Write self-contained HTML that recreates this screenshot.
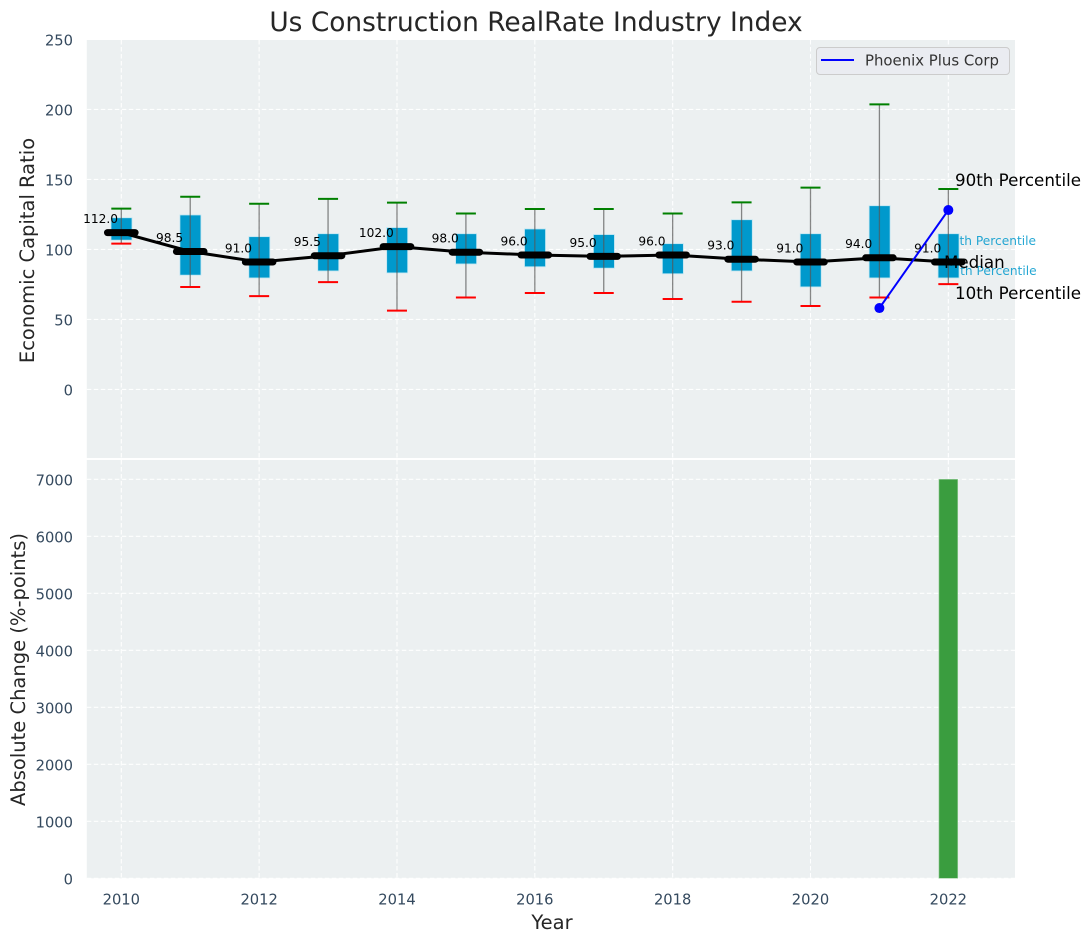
<!DOCTYPE html>
<html lang="en">
<head>
<meta charset="utf-8">
<title>Us Construction RealRate Industry Index</title>
<style>
html,body{margin:0;padding:0;background:#fff;}
svg{display:block;font-family:"DejaVu Sans","Liberation Sans",sans-serif;}
</style>
</head>
<body>
<svg id="chart" width="1090" height="942" viewBox="0 0 1090 942" xmlns="http://www.w3.org/2000/svg">
  <rect x="86.8" y="40" width="928.2" height="418" fill="#ecf0f1"/>
  <rect x="86.8" y="460" width="928.2" height="418.3" fill="#ecf0f1"/>
  <g id="grid"></g>
  <g id="ticks"></g>
  <text x="944" y="245" font-size="12.2" fill="#0099cc" fill-opacity="0.85">75th Percentile</text>
  <text x="944.6" y="275" font-size="12.2" fill="#0099cc" fill-opacity="0.85">25th Percentile</text>
  <g id="marks"></g>
  <text x="536" y="31" font-size="26.4" text-anchor="middle" fill="#262626">Us Construction RealRate Industry Index</text>
  <text transform="translate(34 250.5) rotate(-90)" font-size="19.5" text-anchor="middle" fill="#262626">Economic Capital Ratio</text>
  <text transform="translate(25 669.5) rotate(-90)" font-size="19.5" text-anchor="middle" fill="#262626">Absolute Change (%-points)</text>
  <text x="552" y="929" font-size="19.5" text-anchor="middle" fill="#262626">Year</text>
  <text x="955" y="186" font-size="16.7" fill="#000">90th Percentile</text>
  <text x="944" y="268" font-size="16.7" fill="#000">Median</text>
  <text x="955" y="299" font-size="16.7" fill="#000">10th Percentile</text>
  <g>
    <rect x="816.5" y="47.5" width="193" height="27" rx="3.5" fill="#eaecf1" stroke="#cccccc" stroke-width="1"/>
    <line x1="821" y1="60" x2="854" y2="60" stroke="#0000ff" stroke-width="2"/>
    <text x="865" y="65.5" font-size="14.9" fill="#333333">Phoenix Plus Corp</text>
  </g>
</svg>
<script>
const years = [2010,2011,2012,2013,2014,2015,2016,2017,2018,2019,2020,2021,2022];
const medians = [112,98.5,91,95.5,102,98,96,95,96,93,91,94,91];
const q1 = [106.6,81.6,79.6,84.6,83.2,89.6,87.6,86.6,82.6,84.6,73.2,79.6,79.6];
const q3 = [122.6,124.6,109.1,111.2,115.6,111.2,114.6,110.6,104.1,121.2,111.2,131.2,111.2];
const p10 = [104.1,73.1,66.6,76.6,56.3,65.6,68.9,68.9,64.6,62.6,59.6,65.6,75.2];
const p90 = [129.1,137.6,132.6,136.1,133.4,125.6,128.9,128.9,125.6,133.6,144.1,203.6,143.1];
const phoenixYears = [2021,2022];
const phoenixValues = [58.1,128.1];
const changeYears = [2022];
const changeValues = [7000];
const xTicks = [2010,2012,2014,2016,2018,2020,2022];
const topTicks = [0,50,100,150,200,250];
const bottomTicks = [0,1000,2000,3000,4000,5000,6000,7000];

const NS = 'http://www.w3.org/2000/svg';
const xScale = v => 121.3 + (v - 2010) * 68.92;
const yTop = v => 389.4 - v * 1.4;
const yBottom = v => 878.3 - v * 0.057;
const marks = document.getElementById('marks');
const grid = document.getElementById('grid');
const ticks = document.getElementById('ticks');

function make(parent, tag, props, content) {
  const el = document.createElementNS(NS, tag);
  for (const k in props) el.setAttribute(k, props[k]);
  if (content !== undefined) el.textContent = content;
  parent.appendChild(el);
  return el;
}
const gridStyle = {stroke:'#ffffff', 'stroke-width':1.1, 'stroke-dasharray':'4.5 2.5', 'stroke-opacity':0.95};

xTicks.forEach(t => {
  const x = xScale(t);
  let el = make(grid, 'line', Object.assign({x1:x, x2:x, y1:40, y2:458}, gridStyle));
  
  
  el = make(grid, 'line', Object.assign({x1:x, x2:x, y1:460, y2:878.3}, gridStyle));
  
  
  el = make(ticks, 'text', {x:x, y:904.3, 'font-size':14.7, 'text-anchor':'middle', fill:'#34495e'}, String(t));
  
  
});
topTicks.forEach(t => {
  const y = yTop(t);
  let el = make(grid, 'line', Object.assign({x1:86.8, x2:1015, y1:y, y2:y}, gridStyle));
  
  
  el = make(ticks, 'text', {x:73, y:y + 6.2, 'font-size':14.7, 'text-anchor':'end', fill:'#34495e'}, String(t));
  
  
});
bottomTicks.forEach(t => {
  const y = yBottom(t);
  let el = make(grid, 'line', Object.assign({x1:86.8, x2:1015, y1:y, y2:y}, gridStyle));
  
  
  el = make(ticks, 'text', {x:73, y:y + 6.2, 'font-size':14.7, 'text-anchor':'end', fill:'#34495e'}, String(t));
  
  
});

years.forEach((yr, i) => {
  const x = xScale(yr);
  const box = make(marks, 'rect', {x:x - 10.3, y:yTop(q3[i]), width:21, height:yTop(q1[i]) - yTop(q3[i]), fill:'#0099cc', stroke:'#bfe6f2', 'stroke-width':0.8});
  
  
  const whisker = make(marks, 'line', {x1:x, x2:x, y1:yTop(p90[i]), y2:yTop(p10[i]), stroke:'#555555', 'stroke-opacity':0.7, 'stroke-width':1.3});
  
  
  const hi = make(marks, 'line', {x1:x - 10, x2:x + 10, y1:yTop(p90[i]), y2:yTop(p90[i]), stroke:'#008000', 'stroke-width':2});
  
  
  const lo = make(marks, 'line', {x1:x - 10, x2:x + 10, y1:yTop(p10[i]), y2:yTop(p10[i]), stroke:'#ff0000', 'stroke-width':2});
  
  
});

const medianLine = make(marks, 'polyline', {points:years.map((yr, i) => xScale(yr) + ',' + yTop(medians[i])).join(' '), fill:'none', stroke:'#000000', 'stroke-width':3, 'stroke-linejoin':'round'});



years.forEach((yr, i) => {
  const x = xScale(yr);
  const y = yTop(medians[i]);
  const cap = make(marks, 'line', {x1:x - 13.8, x2:x + 13.8, y1:y, y2:y, stroke:'#000000', 'stroke-width':7, 'stroke-linecap':'round'});
  
  
  const label = make(marks, 'text', {x:x - 20.7, y:y - 9.6, 'font-size':12.2, 'text-anchor':'middle', fill:'#000000'}, medians[i].toFixed(1));
  
  
});

const phoenixLine = make(marks, 'polyline', {points:phoenixYears.map((yr, i) => xScale(yr) + ',' + yTop(phoenixValues[i])).join(' '), fill:'none', stroke:'#0000ff', 'stroke-width':2});


phoenixYears.forEach((yr, i) => {
  const dot = make(marks, 'circle', {cx:xScale(yr), cy:yTop(phoenixValues[i]), r:5, fill:'#0000ff'});
  
  
});

changeYears.forEach((yr, i) => {
  const top = yBottom(changeValues[i]);
  const bar = make(marks, 'rect', {x:xScale(yr) - 9.4, y:top, width:18.8, height:yBottom(0) - top, fill:'#3a9d3f', stroke:'#9fd0a1', 'stroke-width':0.6});
  
  
});
</script>
</body>
</html>
